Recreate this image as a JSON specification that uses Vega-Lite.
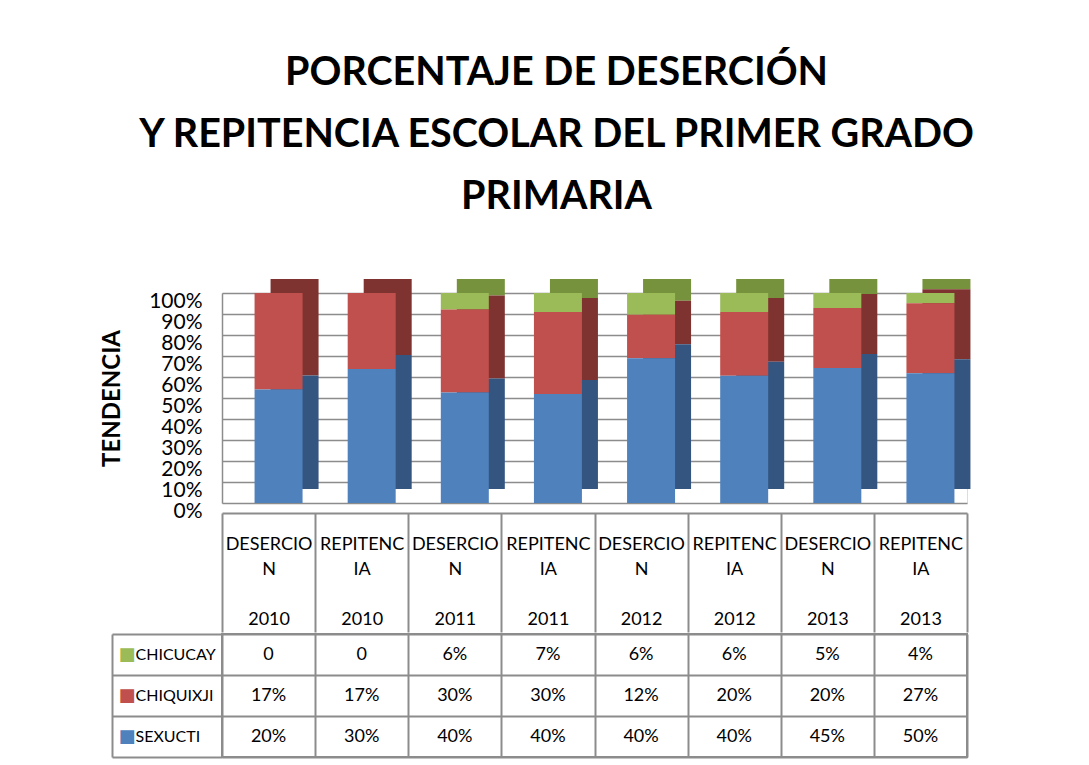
{
  "$schema": "https://vega.github.io/schema/vega-lite/v6.json",
  "background": "white",
  "padding": {"left": 100, "top": 53, "right": 10, "bottom": 5},
  "datasets": {
    "d": [
      {"cat": "DESERCION|2010", "serie": "CHICUCAY", "valor": 0},
      {"cat": "REPITENCIA|2010", "serie": "CHICUCAY", "valor": 0},
      {"cat": "DESERCION|2011", "serie": "CHICUCAY", "valor": 6},
      {"cat": "REPITENCIA|2011", "serie": "CHICUCAY", "valor": 7},
      {"cat": "DESERCION|2012", "serie": "CHICUCAY", "valor": 6},
      {"cat": "REPITENCIA|2012", "serie": "CHICUCAY", "valor": 6},
      {"cat": "DESERCION|2013", "serie": "CHICUCAY", "valor": 5},
      {"cat": "REPITENCIA|2013", "serie": "CHICUCAY", "valor": 4},
      {"cat": "DESERCION|2010", "serie": "CHIQUIXJI", "valor": 17},
      {"cat": "REPITENCIA|2010", "serie": "CHIQUIXJI", "valor": 17},
      {"cat": "DESERCION|2011", "serie": "CHIQUIXJI", "valor": 30},
      {"cat": "REPITENCIA|2011", "serie": "CHIQUIXJI", "valor": 30},
      {"cat": "DESERCION|2012", "serie": "CHIQUIXJI", "valor": 12},
      {"cat": "REPITENCIA|2012", "serie": "CHIQUIXJI", "valor": 20},
      {"cat": "DESERCION|2013", "serie": "CHIQUIXJI", "valor": 20},
      {"cat": "REPITENCIA|2013", "serie": "CHIQUIXJI", "valor": 27},
      {"cat": "DESERCION|2010", "serie": "SEXUCTI", "valor": 20},
      {"cat": "REPITENCIA|2010", "serie": "SEXUCTI", "valor": 30},
      {"cat": "DESERCION|2011", "serie": "SEXUCTI", "valor": 40},
      {"cat": "REPITENCIA|2011", "serie": "SEXUCTI", "valor": 40},
      {"cat": "DESERCION|2012", "serie": "SEXUCTI", "valor": 40},
      {"cat": "REPITENCIA|2012", "serie": "SEXUCTI", "valor": 40},
      {"cat": "DESERCION|2013", "serie": "SEXUCTI", "valor": 45},
      {"cat": "REPITENCIA|2013", "serie": "SEXUCTI", "valor": 50}
    ]
  },
  "title": {
    "text": ["PORCENTAJE  DE  DESERCIÓN", "Y  REPITENCIA  ESCOLAR DEL PRIMER GRADO", "PRIMARIA"],
    "font": "Lato",
    "fontSize": 39.5,
    "fontWeight": "bold",
    "lineHeight": 62,
    "color": "black",
    "anchor": "middle",
    "dx": 21,
    "offset": 61
  },
  "spacing": -10,
  "vconcat": [
    {
      "width": 745,
      "height": 210,
      "data": {"name": "d"},
      "transform": [
        {"calculate": "indexof(['SEXUCTI','CHIQUIXJI','CHICUCAY'], datum.serie)", "as": "orden"}
      ],
      "encoding": {
        "x": {
          "field": "cat",
          "type": "nominal",
          "scale": {
            "domain": ["DESERCION|2010", "REPITENCIA|2010", "DESERCION|2011", "REPITENCIA|2011", "DESERCION|2012", "REPITENCIA|2012", "DESERCION|2013", "REPITENCIA|2013"],
            "paddingInner": 0,
            "paddingOuter": 0
          },
          "axis": {
            "title": null,
            "offset": 10,
            "domainColor": "#8c8c8c",
            "domainWidth": 2,
            "ticks": true,
            "tickBand": "extent",
            "tickSize": 119,
            "tickColor": "#8c8c8c",
            "tickWidth": 2,
            "labelPadding": -97,
            "labelAngle": 0,
            "labelBaseline": "top",
            "labelExpr": "isString(datum.value) ? [substring(split(datum.value,'|')[0],0,8), substring(split(datum.value,'|')[0],8), '\u200b', split(datum.value,'|')[1]] : ''",
            "labelFont": "Lato",
            "labelFontSize": 18,
            "labelLineHeight": 25,
            "labelColor": "black"
          }
        },
        "y": {
          "field": "valor",
          "type": "quantitative",
          "stack": "normalize",
          "scale": {"domain": [0, 1]},
          "axis": {
            "title": "TENDENCIA",
            "titleFont": "Lato",
            "titleFontSize": 24,
            "titleFontWeight": "bold",
            "titleColor": "black",
            "titlePadding": 24,
            "labelFont": "Lato",
            "labelFontSize": 21,
            "labelColor": "black",
            "labelPadding": 20,
            "labelOffset": 8,
            "labelOverlap": false,
            "ticks": false,
            "domain": true,
            "domainColor": "#8c8c8c",
            "domainWidth": 1.5,
            "grid": true,
            "gridColor": "#8c8c8c",
            "gridWidth": 1.5,
            "values": [0, 0.1, 0.2, 0.3, 0.4, 0.5, 0.6, 0.7, 0.8, 0.9, 1],
            "format": ".0%"
          }
        },
        "order": {"field": "orden", "type": "quantitative"}
      },
      "layer": [
        {
          "mark": {"type": "bar", "width": 48, "xOffset": 26, "yOffset": -14},
          "encoding": {
            "color": {
              "field": "serie",
              "type": "nominal",
              "scale": {"domain": ["SEXUCTI", "CHIQUIXJI", "CHICUCAY"], "range": ["#34557f", "#7f3331", "#76923c"]},
              "legend": null
            }
          }
        },
        {
          "mark": {"type": "bar", "width": 48, "xOffset": 10},
          "encoding": {
            "color": {
              "field": "serie",
              "type": "nominal",
              "scale": {"domain": ["SEXUCTI", "CHIQUIXJI", "CHICUCAY"], "range": ["#4f81bd", "#c0504d", "#9bbb59"]},
              "legend": null
            }
          }
        }
      ],
      "resolve": {"scale": {"color": "independent"}}
    },
    {
      "width": 745,
      "height": 123,
      "data": {"name": "d"},
      "transform": [
        {"calculate": "datum.valor === 0 ? '0' : datum.valor + '%'", "as": "texto"}
      ],
      "view": {"stroke": "#8c8c8c", "strokeWidth": 2},
      "layer": [
        {
          "mark": {"type": "text", "font": "Lato", "fontSize": 18, "color": "black"},
          "encoding": {
            "x": {
              "field": "cat",
              "type": "nominal",
              "scale": {
                "domain": ["DESERCION|2010", "REPITENCIA|2010", "DESERCION|2011", "REPITENCIA|2011", "DESERCION|2012", "REPITENCIA|2012", "DESERCION|2013", "REPITENCIA|2013"],
                "paddingInner": 0,
                "paddingOuter": 0
              },
              "axis": {
                "title": null,
                "labels": false,
                "ticks": false,
                "domain": false,
                "grid": true,
                "tickBand": "extent",
                "gridColor": "#8c8c8c",
                "gridWidth": 2
              }
            },
            "y": {
              "field": "serie",
              "type": "nominal",
              "scale": {"domain": ["CHICUCAY", "CHIQUIXJI", "SEXUCTI"], "paddingInner": 0, "paddingOuter": 0},
              "axis": {
                "title": null,
                "orient": "left",
                "grid": true,
                "tickBand": "extent",
                "gridColor": "#8c8c8c",
                "gridWidth": 2,
                "ticks": true,
                "tickSize": 110,
                "tickColor": "#8c8c8c",
                "tickWidth": 2,
                "domain": false,
                "labelAlign": "left",
                "labelPadding": -23,
                "labelFont": "Lato",
                "labelFontSize": 16,
                "labelColor": "black"
              }
            },
            "text": {"field": "texto"}
          }
        },
        {
          "mark": {"type": "text", "text": ""},
          "encoding": {
            "y": {
              "field": "serie",
              "type": "nominal",
              "scale": {"domain": ["CHICUCAY", "CHIQUIXJI", "SEXUCTI"], "paddingInner": 0, "paddingOuter": 0},
              "axis": {
                "title": null,
                "orient": "left",
                "offset": 110,
                "domain": true,
                "domainColor": "#8c8c8c",
                "domainWidth": 2,
                "ticks": false,
                "grid": false,
                "labelExpr": "'■'",
                "labelColor": {
                  "condition": [
                    {"test": "datum.value === 'CHICUCAY'", "value": "#9bbb59"},
                    {"test": "datum.value === 'CHIQUIXJI'", "value": "#c0504d"}
                  ],
                  "value": "#4f81bd"
                },
                "labelFont": "DejaVu Sans",
                "labelFontSize": 18,
                "labelAlign": "left",
                "labelPadding": -6
              }
            }
          }
        }
      ],
      "resolve": {"scale": {"y": "independent"}, "axis": {"y": "independent"}}
    }
  ]
}
